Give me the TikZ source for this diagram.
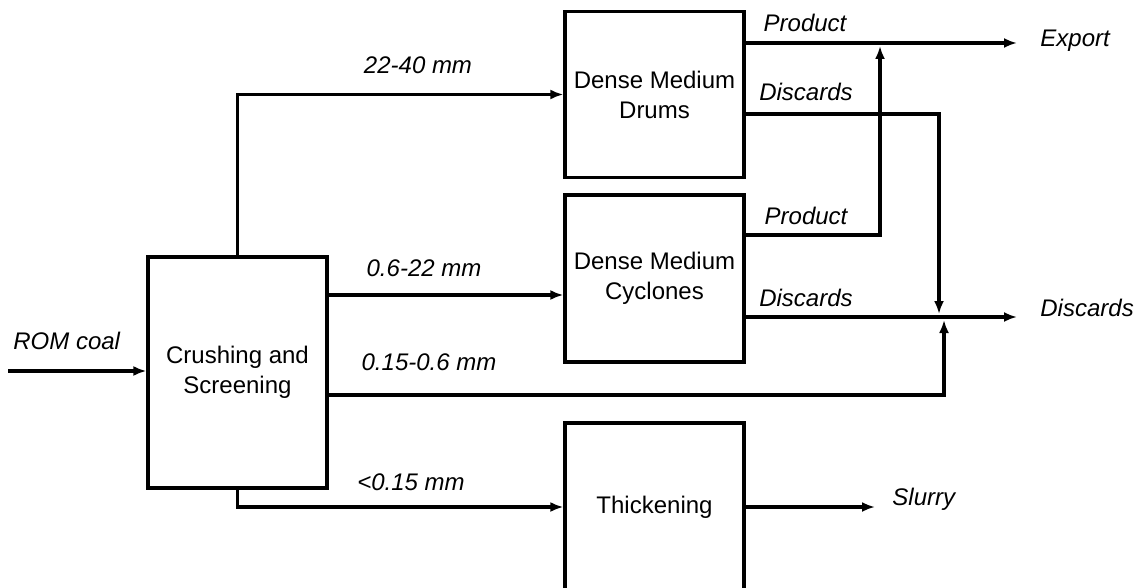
\documentclass[tikz,border=0pt]{standalone}
\usepackage{fontspec}
\setmainfont{Liberation Sans}
\usetikzlibrary{arrows.meta,calc}
\begin{document}
\begin{tikzpicture}[x=0.5pt,y=-0.5pt,
  font=\fontsize{12}{15}\selectfont,
  box/.style={draw,line width=1.6pt,minimum width=89.5pt,align=center,inner sep=0pt},
  lab/.style={font=\fontsize{12}{15}\selectfont\itshape,inner sep=0pt},
  ln/.style={line width=1.6pt},
  arr/.style={ln,-{Latex[length=6.5pt,width=5pt]}}]
\useasboundingbox (0,0) rectangle (1139,588);
\clip (0,0) rectangle (1139,588);
% boxes
\node[box,minimum height=115.5pt] (crush) at (237.5,372.5) {Crushing and\\Screening};
\node[box,minimum height=83pt] (drums) at (654.5,94.5) {Dense Medium\\Drums};
\node[box,minimum height=83.5pt] (cyc) at (654.5,278.5) {Dense Medium\\Cyclones};
\node[box,minimum height=84pt] (thick) at (654.5,507) {Thickening};
% end labels
\node[lab,anchor=west] (rom) at (13,341) {ROM coal};
\node[lab,anchor=west] (exp) at (1040,41) {Export};
\node[lab,anchor=west] (dis) at (1040,308) {Discards};
\node[lab,anchor=west] (slu) at (892,499) {Slurry};
% stream labels
\node[lab] (l1) at (418,65) {22-40 mm};
\node[lab] (l2) at (424,268) {0.6-22 mm};
\node[lab] (l3) at (429,362) {0.15-0.6 mm};
\node[lab] (l4) at (411,482) {<0.15 mm};
\node[lab] (p1) at (805,23) {Product};
\node[lab] (d1) at (806,92) {Discards};
\node[lab] (p2) at (806,216) {Product};
\node[lab] (d2) at (806,298) {Discards};
% coordinates
\coordinate (romin) at (8,371);
\coordinate (expout) at (1017,43);
\coordinate (disout) at (1017,317);
\coordinate (sluout) at (875,507);
\coordinate (jp) at (880,46);
\coordinate (jd) at (939,314);
\coordinate (ju) at (944,320);
% connectors
\draw[arr] (romin) -- (romin -| crush.west);
\draw[arr] (crush.north) |- (drums.west);
\draw[arr] ($(crush.east)+(0,-77.5)$) -- ($(cyc.west)+(0,16.5)$);
\draw[arr] ($(crush.east)+(0,22.5)$) -| (ju);
\draw[arr] (crush.south) |- (thick.west);
\draw[arr] (drums.east |- expout) -- (expout);
\draw[arr] ($(drums.east)+(0,19.5)$) -| (jd);
\draw[arr] ($(cyc.east)+(0,-43.5)$) -| (jp);
\draw[arr] (cyc.east |- disout) -- (disout);
\draw[arr] (thick.east |- sluout) -- (sluout);
\end{tikzpicture}
\end{document}
